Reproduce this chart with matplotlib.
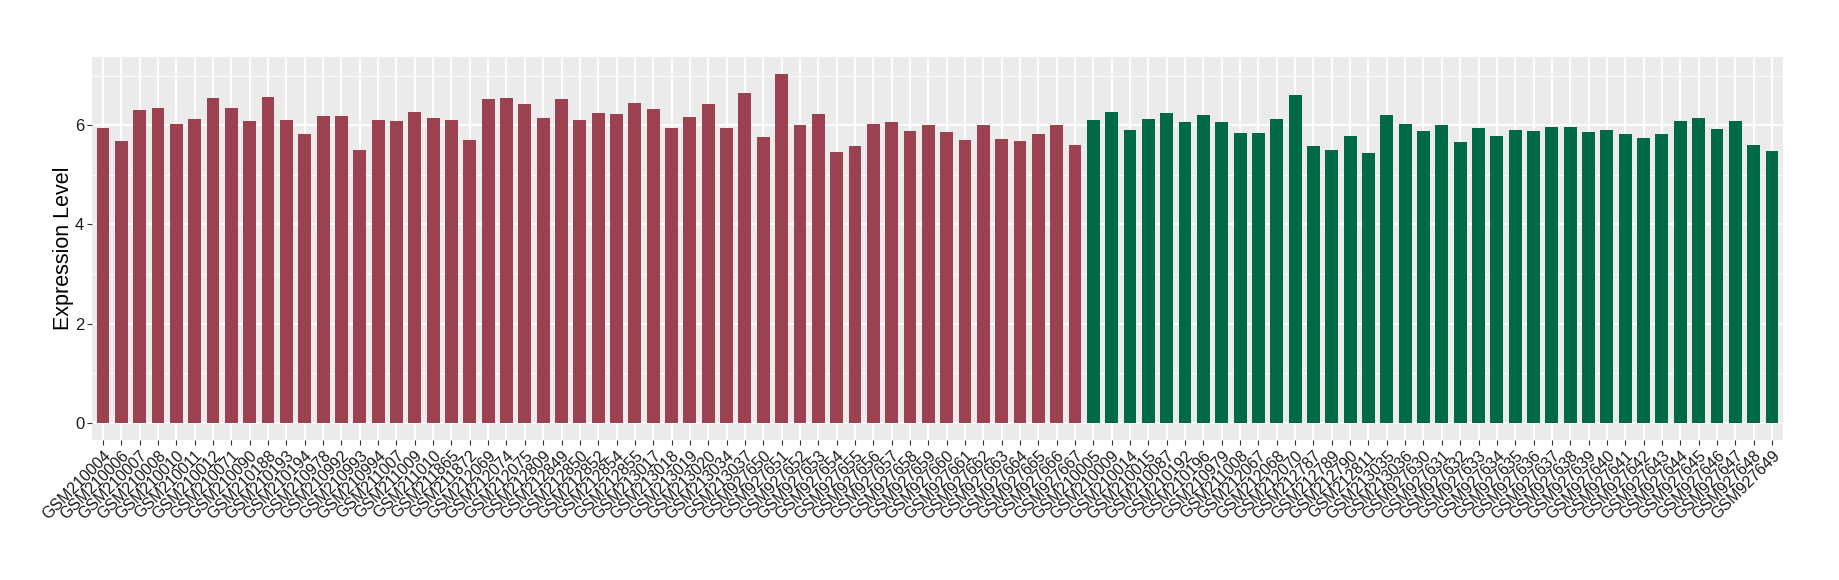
import numpy as np
import matplotlib
matplotlib.use("Agg")
import matplotlib.pyplot as plt
from matplotlib.ticker import MultipleLocator

plt.rcParams['font.family'] = ['Liberation Sans', 'DejaVu Sans']

# first group (red)
red_samples = ["GSM210004", "GSM210006", "GSM210007", "GSM210008", "GSM210010", "GSM210011",
               "GSM210012", "GSM210071", "GSM210090", "GSM210188", "GSM210193", "GSM210194",
               "GSM210978", "GSM210992", "GSM210993", "GSM210994", "GSM211007", "GSM211009",
               "GSM211010", "GSM211865", "GSM211872", "GSM212069", "GSM212074", "GSM212075",
               "GSM212809", "GSM212849", "GSM212850", "GSM212852", "GSM212854", "GSM212855",
               "GSM213017", "GSM213018", "GSM213019", "GSM213020", "GSM213034", "GSM213037",
               "GSM927650", "GSM927651", "GSM927652", "GSM927653", "GSM927654", "GSM927655",
               "GSM927656", "GSM927657", "GSM927658", "GSM927659", "GSM927660", "GSM927661",
               "GSM927662", "GSM927663", "GSM927664", "GSM927665", "GSM927666", "GSM927667"]
red_values = [5.95, 5.69, 6.31, 6.35, 6.03, 6.13, 6.55, 6.35, 6.09, 6.57, 6.11, 5.83,
              6.19, 6.19, 5.50, 6.11, 6.09, 6.27, 6.15, 6.11, 5.70, 6.53, 6.55, 6.43,
              6.15, 6.53, 6.11, 6.25, 6.23, 6.45, 6.33, 5.95, 6.17, 6.43, 5.95, 6.65,
              5.77, 7.03, 6.01, 6.23, 5.46, 5.58, 6.03, 6.07, 5.89, 6.01, 5.87, 5.70,
              6.01, 5.72, 5.68, 5.83, 6.01, 5.61]

# second group (green)
green_samples = ["GSM210005", "GSM210009", "GSM210014", "GSM210015", "GSM210087", "GSM210192",
                 "GSM210196", "GSM210979", "GSM211008", "GSM212067", "GSM212068", "GSM212070",
                 "GSM212787", "GSM212789", "GSM212790", "GSM212811", "GSM213035", "GSM213036",
                 "GSM927630", "GSM927631", "GSM927632", "GSM927633", "GSM927634", "GSM927635",
                 "GSM927636", "GSM927637", "GSM927638", "GSM927639", "GSM927640", "GSM927641",
                 "GSM927642", "GSM927643", "GSM927644", "GSM927645", "GSM927646", "GSM927647",
                 "GSM927648", "GSM927649"]
green_values = [6.11, 6.27, 5.91, 6.13, 6.25, 6.07, 6.21, 6.07, 5.85, 5.85, 6.13, 6.61,
                5.58, 5.50, 5.79, 5.44, 6.21, 6.03, 5.89, 6.01, 5.66, 5.95, 5.79, 5.91,
                5.89, 5.97, 5.97, 5.87, 5.91, 5.83, 5.74, 5.82, 6.08, 6.15, 5.92, 6.08,
                5.60, 5.48]

red_col = "#9B4150"
green_col = "#006A45"

samples = red_samples + green_samples
values = red_values + green_values
colors = [red_col] * len(red_samples) + [green_col] * len(green_samples)
x = np.arange(len(samples))

fig = plt.figure(figsize=(18.4, 5.8), dpi=100)
ax = fig.add_axes([0.05, 0.241, 0.919, 0.661])
ax.set_facecolor("#EBEBEB")

ax.bar(x, values, width=0.7, color=colors, zorder=3)

# ggplot style 5% / 0.6 expansion
ax.set_xlim(-0.6, len(samples) - 0.4)
ax.set_ylim(-max(values) * 0.05, max(values) * 1.05)

ax.yaxis.set_major_locator(MultipleLocator(2))
ax.yaxis.set_minor_locator(MultipleLocator(1))
ax.grid(which="major", color="white", linewidth=1.3, zorder=0)
ax.grid(which="minor", axis="y", color="white", linewidth=0.6, zorder=0)
ax.tick_params(which="minor", length=0)
ax.tick_params(which="major", length=3.5, width=0.8, color="#333333", labelcolor="#1a1a1a", pad=2)
ax.tick_params(axis="y", labelsize=12)

ax.set_xticks(x)
ax.set_xticklabels(samples, rotation=45, ha="right", rotation_mode="anchor", fontsize=11.5)
ax.set_ylabel("Expression Level", fontsize=15.5, labelpad=1)

for s in ax.spines.values():
    s.set_visible(False)

plt.savefig("out.png", dpi=100)
